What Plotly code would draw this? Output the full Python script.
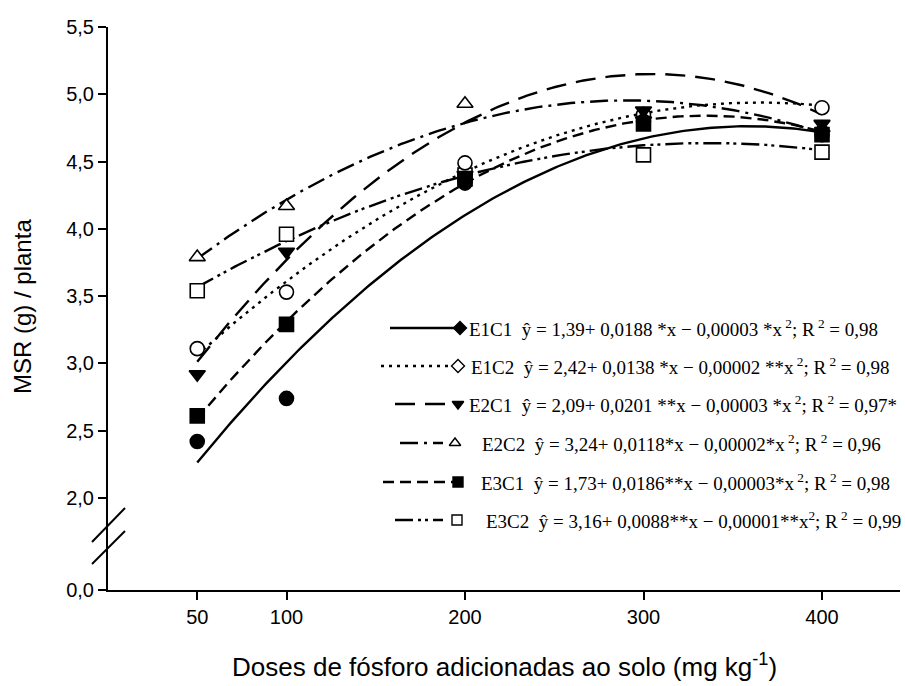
import numpy as np
import plotly.graph_objects as go

# ---------------- data ----------------
doses = [50, 100, 200, 300, 400]
series_names = ["E1C1", "E1C2", "E2C1", "E2C2", "E3C1", "E3C2"]
msr_e1c1 = [2.42, 2.74, 4.34, 4.80, 4.70]
msr_e1c2 = [3.11, 3.53, 4.49, 4.85, 4.90]
msr_e2c1 = [2.92, 3.83, 4.40, 4.88, 4.78]
msr_e2c2 = [3.79, 4.17, 4.93, 4.85, 4.75]
msr_e3c1 = [2.61, 3.29, 4.37, 4.78, 4.70]
msr_e3c2 = [3.54, 3.96, 4.40, 4.55, 4.57]

# regression coefficients  y = b0 + b1*x + b2*x^2
coef_b0 = [1.39, 2.42, 2.09, 3.24, 1.73, 3.16]
coef_b1 = [0.0188, 0.0138, 0.0201, 0.0118, 0.0186, 0.0088]
coef_b2 = [-0.0000262, -0.0000189, -0.0000330, -0.0000203, -0.0000278, -0.0000131]

equations = [
    "E1C1  ŷ = 1,39+ 0,0188 *x − 0,00003 *x<sup> 2</sup>; R<sup> 2</sup> = 0,98",
    "E1C2  ŷ = 2,42+ 0,0138 *x − 0,00002 **x<sup> 2</sup>; R<sup> 2</sup> = 0,98",
    "E2C1  ŷ = 2,09+ 0,0201 **x − 0,00003 *x<sup> 2</sup>; R<sup> 2</sup> = 0,97*",
    "E2C2  ŷ = 3,24+ 0,0118*x − 0,00002*x<sup> 2</sup>; R<sup> 2</sup> = 0,96",
    "E3C1  ŷ = 1,73+ 0,0186**x − 0,00003*x<sup> 2</sup>; R<sup> 2</sup> = 0,98",
    "E3C2  ŷ = 3,16+ 0,0088**x − 0,00001**x<sup>2</sup>; R<sup> 2</sup> = 0,99",
]

x_tick_vals = [50, 100, 200, 300, 400]
x_tick_text = ["50", "100", "200", "300", "400"]
y_tick_vals = [0.0, 2.0, 2.5, 3.0, 3.5, 4.0, 4.5, 5.0, 5.5]
y_tick_text = ["0,0", "2,0", "2,5", "3,0", "3,5", "4,0", "4,5", "5,0", "5,5"]

x_title = "Doses de fósforo adicionadas ao solo (mg kg<sup>-1</sup>)"
y_title = "MSR (g) / planta"

# ---------------- styling ----------------
series_values = [msr_e1c1, msr_e1c2, msr_e2c1, msr_e2c2, msr_e3c1, msr_e3c2]
line_dash = ["solid", "3px,5px", "20px,10px", "18px,6px,3px,6px", "11px,6px",
             "18px,5px,3px,4px,3px,5px"]
data_symbol = ["circle", "circle", "triangle-down", "triangle-up", "square", "square"]
data_fill = ["black", "white", "black", "white", "black", "white"]
legend_symbol = ["diamond", "diamond", "triangle-down", "triangle-up", "square", "square"]

# legend layout in pixel coordinates (overlay axis)
leg_rows_y = [328, 366, 404, 443, 482, 520]
leg_line_x0 = [390, 381, 395, 400, 383, 395]
leg_line_x1 = [455, 452, 448, 443, 453, 443]
leg_mark_x = [460, 458, 458, 455, 458, 457]
leg_text_x = [465, 467, 465, 478, 477, 482]

# plot area in pixels
PL, PR, PT, PB = 108, 900, 27, 590
W, H = 905, 686

BREAK = 2.0
COMPRESS = 0.3418


def ybrk(v):
    v = np.asarray(v, dtype=float)
    return np.where(v >= BREAK, v, BREAK - (BREAK - v) * COMPRESS)


def px2paper_x(p):
    return (p - PL) / (PR - PL)


def px2paper_y(p):
    return (PB - p) / (PB - PT)


fig = go.Figure()

# fitted curves
xc = np.linspace(min(doses), max(doses), 200)
for i in range(len(series_names)):
    yc = coef_b0[i] + coef_b1[i] * xc + coef_b2[i] * xc ** 2
    fig.add_trace(go.Scatter(
        x=xc, y=ybrk(yc), mode="lines",
        line=dict(color="black", width=2.4, dash=line_dash[i]),
        showlegend=False, hoverinfo="skip"))

# markers: open ones first, filled on top
order = [5, 3, 1, 4, 2, 0]
for i in order:
    fig.add_trace(go.Scatter(
        x=doses, y=ybrk(series_values[i]), mode="markers", name=series_names[i],
        marker=dict(symbol=data_symbol[i], size=14, color=data_fill[i],
                    line=dict(color="black", width=1.6)),
        showlegend=False))

# manual legend on pixel overlay axes
for i in range(len(series_names)):
    fig.add_trace(go.Scatter(
        x=[leg_line_x0[i], leg_line_x1[i]], y=[leg_rows_y[i], leg_rows_y[i]],
        xaxis="x2", yaxis="y2", mode="lines",
        line=dict(color="black", width=2.4, dash=line_dash[i]),
        showlegend=False, hoverinfo="skip"))
    fig.add_trace(go.Scatter(
        x=[leg_mark_x[i]], y=[leg_rows_y[i]], xaxis="x2", yaxis="y2",
        mode="markers",
        marker=dict(symbol=legend_symbol[i], size=10, color=data_fill[i],
                    line=dict(color="black", width=1.4)),
        showlegend=False, hoverinfo="skip"))
    fig.add_annotation(
        x=leg_text_x[i] + 2, y=leg_rows_y[i], xref="x2", yref="y2",
        text=equations[i], showarrow=False, xanchor="left", yanchor="middle",
        font=dict(family="Liberation Serif", size=19, color="black"))

# axis titles
fig.add_annotation(x=px2paper_x(504), y=px2paper_y(665), xref="paper", yref="paper",
                   text=x_title, showarrow=False, xanchor="center", yanchor="middle",
                   font=dict(family="Liberation Sans", size=26, color="black"))
fig.add_annotation(x=px2paper_x(22), y=px2paper_y(307), xref="paper", yref="paper",
                   text=y_title, showarrow=False, textangle=-90,
                   xanchor="center", yanchor="middle",
                   font=dict(family="Liberation Sans", size=24, color="black"))

# axis break marks
for (x0, y0, x1, y1) in [(92, 542, 125, 508), (92, 564, 125, 531)]:
    fig.add_shape(type="line", xref="paper", yref="paper",
                  x0=px2paper_x(x0), y0=px2paper_y(y0),
                  x1=px2paper_x(x1), y1=px2paper_y(y1),
                  line=dict(color="black", width=2))

axis_font = dict(family="Liberation Sans", size=20, color="black")

fig.update_layout(
    width=W, height=H,
    margin=dict(l=PL, r=W - PR, t=PT, b=H - PB),
    paper_bgcolor="white", plot_bgcolor="white",
    font=dict(family="Liberation Sans", color="black"),
    xaxis=dict(range=[0, (PR - PL) / 1.785], tickvals=x_tick_vals, ticktext=x_tick_text,
               showline=True, linecolor="black", linewidth=2, ticks="outside",
               ticklen=8, tickwidth=2, tickcolor="black", showgrid=False,
               zeroline=False, tickfont=axis_font),
    yaxis=dict(range=[float(ybrk(0.0)), 5.5], tickvals=list(ybrk(y_tick_vals)),
               ticktext=y_tick_text, showline=True, linecolor="black", linewidth=2,
               ticks="outside", ticklen=8, tickwidth=2, tickcolor="black",
               showgrid=False, zeroline=False, tickfont=axis_font),
    xaxis2=dict(overlaying="x", range=[PL, PR], visible=False, anchor="y2"),
    yaxis2=dict(overlaying="y", range=[PB, PT], visible=False, anchor="x2"),
)

fig.write_html("out.html")
